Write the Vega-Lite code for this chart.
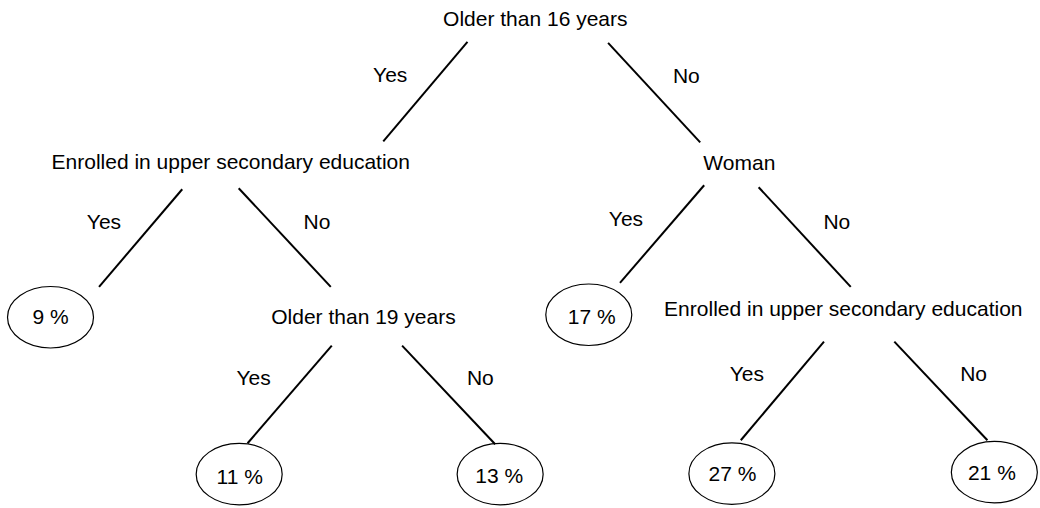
{
  "$schema": "https://vega.github.io/schema/vega-lite/v6.json",
  "width": 1040,
  "height": 508,
  "padding": 0,
  "autosize": {"type": "fit", "contains": "padding"},
  "background": "white",
  "config": {"view": {"stroke": null}},
  "datasets": {
    "edges": [
      {"x": 472, "y": 42, "x2": 387, "y2": 142},
      {"x": 614, "y": 43, "x2": 707, "y2": 143},
      {"x": 184, "y": 190, "x2": 100, "y2": 288},
      {"x": 241, "y": 189, "x2": 334, "y2": 288},
      {"x": 711, "y": 186, "x2": 626, "y2": 284},
      {"x": 766, "y": 188, "x2": 859, "y2": 288},
      {"x": 335, "y": 347, "x2": 250, "y2": 445},
      {"x": 406, "y": 347, "x2": 500, "y2": 446},
      {"x": 832, "y": 343, "x2": 748, "y2": 442},
      {"x": 903, "y": 343, "x2": 997, "y2": 442}
    ],
    "leaves": [
      {"x": 51, "y": 318.5},
      {"x": 594.5, "y": 316},
      {"x": 241.5, "y": 476},
      {"x": 505, "y": 476},
      {"x": 739, "y": 475.5},
      {"x": 1004, "y": 474}
    ],
    "labels": [
      {"x": 540.5, "y": 26, "text": "Older than 16 years"},
      {"x": 394, "y": 82, "text": "Yes"},
      {"x": 693, "y": 83, "text": "No"},
      {"x": 233, "y": 170, "text": "Enrolled in upper secondary education"},
      {"x": 746.5, "y": 171, "text": "Woman"},
      {"x": 105, "y": 230, "text": "Yes"},
      {"x": 320, "y": 230, "text": "No"},
      {"x": 632, "y": 227, "text": "Yes"},
      {"x": 845, "y": 230, "text": "No"},
      {"x": 51, "y": 325, "text": "9 %"},
      {"x": 367, "y": 325, "text": "Older than 19 years"},
      {"x": 597.5, "y": 325, "text": "17 %"},
      {"x": 851.5, "y": 317, "text": "Enrolled in upper secondary education"},
      {"x": 256, "y": 387, "text": "Yes"},
      {"x": 485, "y": 387, "text": "No"},
      {"x": 754, "y": 383, "text": "Yes"},
      {"x": 983, "y": 383, "text": "No"},
      {"x": 242, "y": 486, "text": "11 %"},
      {"x": 504, "y": 485, "text": "13 %"},
      {"x": 739.5, "y": 483, "text": "27 %"},
      {"x": 1001.5, "y": 482, "text": "21 %"}
    ]
  },
  "layer": [
    {
      "data": {"name": "edges"},
      "mark": {"type": "rule", "color": "black", "strokeWidth": 2},
      "encoding": {
        "x": {"field": "x", "type": "quantitative", "scale": {"domain": [0, 1040], "nice": false, "zero": false}, "axis": null},
        "y": {"field": "y", "type": "quantitative", "scale": {"domain": [0, 508], "nice": false, "zero": false, "reverse": true}, "axis": null},
        "x2": {"field": "x2"},
        "y2": {"field": "y2"}
      }
    },
    {
      "data": {"name": "leaves"},
      "mark": {
        "type": "point",
        "shape": "M 1 0 C 1 0.395 0.552 0.715 0 0.715 C -0.552 0.715 -1 0.395 -1 0 C -1 -0.395 -0.552 -0.715 0 -0.715 C 0.552 -0.715 1 -0.395 1 0 Z",
        "size": 7396,
        "filled": false,
        "stroke": "black",
        "strokeWidth": 1.2,
        "opacity": 1
      },
      "encoding": {
        "x": {"field": "x", "type": "quantitative", "scale": {"domain": [0, 1040], "nice": false, "zero": false}, "axis": null},
        "y": {"field": "y", "type": "quantitative", "scale": {"domain": [0, 508], "nice": false, "zero": false, "reverse": true}, "axis": null}
      }
    },
    {
      "data": {"name": "labels"},
      "mark": {
        "type": "text",
        "font": "Liberation Sans",
        "fontSize": 21,
        "color": "black",
        "align": "center",
        "baseline": "alphabetic"
      },
      "encoding": {
        "x": {"field": "x", "type": "quantitative", "scale": {"domain": [0, 1040], "nice": false, "zero": false}, "axis": null},
        "y": {"field": "y", "type": "quantitative", "scale": {"domain": [0, 508], "nice": false, "zero": false, "reverse": true}, "axis": null},
        "text": {"field": "text", "type": "nominal"}
      }
    }
  ]
}
